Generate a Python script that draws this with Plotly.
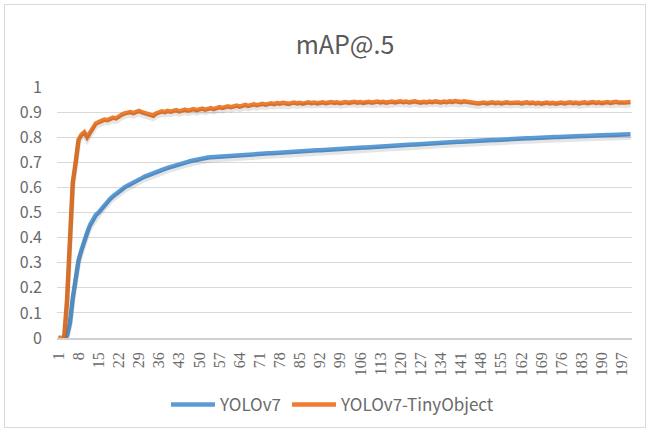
import plotly.graph_objects as go

epochs = list(range(1, 201))
tick_labels = [str(v) for v in range(1, 201, 7)]

yolov7 = [
    0, 0, 0, 0.01, 0.06, 0.16, 0.25, 0.31, 0.35, 0.39,
    0.42, 0.45, 0.47, 0.49, 0.50, 0.515, 0.53, 0.545, 0.555, 0.565,
    0.575, 0.585, 0.593, 0.60, 0.607, 0.614, 0.62, 0.626, 0.632, 0.637,
    0.643, 0.648, 0.653, 0.657, 0.662, 0.666, 0.67, 0.674, 0.678, 0.682,
    0.686, 0.69, 0.693, 0.696, 0.699, 0.702, 0.705, 0.708, 0.711, 0.714,
    0.717, 0.718, 0.719, 0.720, 0.721, 0.722, 0.723, 0.724, 0.725, 0.726,
    0.727, 0.727, 0.728, 0.729, 0.729, 0.730, 0.731, 0.731, 0.732, 0.733,
    0.734, 0.734, 0.735, 0.736, 0.736, 0.737, 0.738, 0.738, 0.739, 0.740,
    0.741, 0.741, 0.742, 0.743, 0.743, 0.744, 0.745, 0.745, 0.746, 0.747,
    0.748, 0.748, 0.749, 0.750, 0.750, 0.751, 0.752, 0.752, 0.753, 0.754,
    0.755, 0.755, 0.756, 0.757, 0.757, 0.758, 0.759, 0.759, 0.760, 0.761,
    0.762, 0.762, 0.763, 0.764, 0.764, 0.765, 0.766, 0.766, 0.767, 0.768,
    0.769, 0.769, 0.770, 0.771, 0.771, 0.772, 0.773, 0.773, 0.774, 0.775,
    0.776, 0.776, 0.777, 0.778, 0.778, 0.779, 0.780, 0.780, 0.781, 0.782,
    0.782, 0.783, 0.783, 0.784, 0.785, 0.785, 0.786, 0.786, 0.787, 0.788,
    0.788, 0.789, 0.789, 0.790, 0.791, 0.791, 0.792, 0.792, 0.793, 0.794,
    0.794, 0.795, 0.795, 0.796, 0.796, 0.797, 0.797, 0.798, 0.798, 0.799,
    0.799, 0.800, 0.800, 0.801, 0.801, 0.802, 0.802, 0.803, 0.803, 0.804,
    0.804, 0.805, 0.805, 0.805, 0.806, 0.806, 0.807, 0.807, 0.807, 0.808,
    0.808, 0.809, 0.809, 0.809, 0.810, 0.810, 0.811, 0.811, 0.811, 0.812,
]

yolov7_tiny = [
    0, 0, 0, 0.15, 0.40, 0.62, 0.70, 0.79, 0.81, 0.82,
    0.80, 0.82, 0.84, 0.855, 0.86, 0.865, 0.87, 0.868, 0.875, 0.878,
    0.875, 0.885, 0.89, 0.895, 0.898, 0.90, 0.896, 0.902, 0.905, 0.90,
    0.897, 0.893, 0.888, 0.886, 0.895, 0.90, 0.903, 0.90, 0.905, 0.902,
    0.905, 0.908, 0.903, 0.907, 0.910, 0.906, 0.909, 0.912, 0.908, 0.911,
    0.914, 0.910, 0.913, 0.916, 0.912, 0.918, 0.920, 0.917, 0.921, 0.923,
    0.920, 0.924, 0.926, 0.922, 0.927, 0.929, 0.925, 0.930, 0.931, 0.928,
    0.932, 0.933, 0.930, 0.934, 0.935, 0.932, 0.936, 0.934, 0.937, 0.935,
    0.933, 0.936, 0.938, 0.935, 0.937, 0.934, 0.936, 0.939, 0.936, 0.938,
    0.935, 0.937, 0.939, 0.936, 0.938, 0.940, 0.937, 0.939, 0.936, 0.938,
    0.940, 0.937, 0.939, 0.941, 0.938, 0.940, 0.937, 0.939, 0.941, 0.938,
    0.940, 0.942, 0.939, 0.941, 0.938, 0.940, 0.942, 0.939, 0.941, 0.943,
    0.940, 0.942, 0.939, 0.941, 0.943, 0.940, 0.938, 0.941, 0.939, 0.942,
    0.940, 0.943, 0.941, 0.939, 0.942, 0.940, 0.943, 0.941, 0.944, 0.942,
    0.940, 0.943, 0.941, 0.938, 0.935, 0.937, 0.934, 0.936, 0.938, 0.935,
    0.937, 0.939, 0.936, 0.938, 0.935, 0.937, 0.939, 0.936, 0.938, 0.936,
    0.938, 0.935, 0.937, 0.939, 0.936, 0.938, 0.935, 0.937, 0.934, 0.936,
    0.938, 0.935, 0.937, 0.934, 0.936, 0.938, 0.935, 0.937, 0.939, 0.936,
    0.938, 0.935, 0.937, 0.939, 0.936, 0.938, 0.940, 0.937, 0.939, 0.936,
    0.938, 0.940, 0.937, 0.939, 0.941, 0.938, 0.940, 0.938, 0.939, 0.940,
]

series = [
    ("YOLOv7", yolov7, "#5B9BD5"),
    ("YOLOv7-TinyObject", yolov7_tiny, "#ED7D31"),
]

FONT = "Noto Sans CJK SC, Noto Sans, sans-serif"
TXT = "#595959"

fig = go.Figure()
# soft shadows (drawn on an overlay axis shifted by a few pixels)
for name, vals, col in series:
    fig.add_trace(go.Scatter(
        x=epochs, y=vals, mode="lines", yaxis="y2", showlegend=False,
        hoverinfo="skip", line=dict(color="rgba(0,0,0,0.10)", width=5),
    ))
for name, vals, col in series:
    fig.add_trace(go.Scatter(
        x=epochs, y=vals, mode="lines", name=name,
        line=dict(color=col, width=4.5),
    ))

W, H = 647, 430
L, R, T, B = 57, 15, 87, 92
pw, ph = W - L - R, H - T - B

def px(xp):
    return (xp - L) / pw

def py(yp):
    return (H - B - yp) / ph

fig.update_layout(
    width=W, height=H,
    margin=dict(l=L, r=R, t=T, b=B, autoexpand=False),
    paper_bgcolor="white", plot_bgcolor="white",
    font=dict(family=FONT, color=TXT, size=13),
    title=dict(text="mAP@.5", x=345 / W, xref="container", xanchor="center",
               y=1 - 45 / H, yref="container", yanchor="middle",
               font=dict(size=25, color=TXT, family=FONT)),
    xaxis=dict(
        range=[0.5, 200.5], tickmode="array",
        tickvals=[int(t) for t in tick_labels], ticktext=tick_labels,
        tickangle=-90, showgrid=False, zeroline=False,
        showline=True, linecolor="#D0D0D0", linewidth=1.5,
        ticks="", ticklabelstandoff=6,
        tickfont=dict(size=16, color="#6a6a6a",
                      family="Liberation Serif, DejaVu Serif, serif"),
    ),
    yaxis=dict(
        range=[0, 1.0001], tickmode="array",
        tickvals=[0, 0.1, 0.2, 0.3, 0.4, 0.5, 0.6, 0.7, 0.8, 0.9, 1],
        ticktext=["0", "0.1", "0.2", "0.3", "0.4", "0.5", "0.6", "0.7", "0.8", "0.9", "1"],
        showgrid=True, gridcolor="#D9D9D9", gridwidth=1, zeroline=False,
        showline=False, ticks="", ticklabelstandoff=14,
        tickfont=dict(size=16, color="#6a6a6a"),
    ),
    yaxis2=dict(range=[0.012, 1.0121], overlaying="y", visible=False),
    legend=dict(orientation="h", x=px(333), xanchor="center", xref="paper",
                y=py(405), yanchor="middle",
                font=dict(size=17, color="#6a6a6a"), itemwidth=44,
                bgcolor="rgba(0,0,0,0)"),
    shapes=[dict(type="rect", xref="paper", yref="paper",
                 x0=px(4.5), x1=px(645.5), y0=py(427.5), y1=py(4.5),
                 line=dict(color="#D9D9D9", width=1), layer="below")],
    showlegend=True,
)

fig.write_html("out.html")
